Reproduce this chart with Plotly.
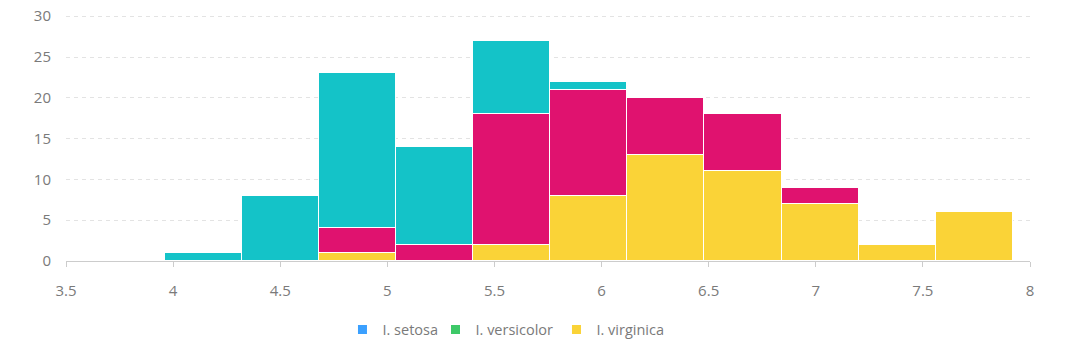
import plotly.graph_objects as go

bin_centers = [4.14, 4.50, 4.86, 5.22, 5.58, 5.94, 6.30, 6.66, 7.02, 7.38, 7.74]
bin_width = 0.36
setosa = [1, 8, 19, 12, 9, 1, 0, 0, 0, 0, 0]
versicolor = [0, 0, 3, 2, 16, 13, 7, 7, 2, 0, 0]
virginica = [0, 0, 1, 0, 2, 8, 13, 11, 7, 2, 6]
series_names = ["I. setosa", "I. versicolor", "I. virginica"]
bar_colors = {"I. setosa": "#14C3C8", "I. versicolor": "#E0126F", "I. virginica": "#FAD337"}
legend_colors = {"I. setosa": "#3BA0FF", "I. versicolor": "#3DC968", "I. virginica": "#FAD337"}
x_ticks = [3.5, 4, 4.5, 5, 5.5, 6, 6.5, 7, 7.5, 8]
y_ticks = [0, 5, 10, 15, 20, 25, 30]

FONT = "Open Sans, Noto Sans, sans-serif"
TXT = "#7a7a7a"

fig = go.Figure()
for name, vals in [("I. virginica", virginica), ("I. versicolor", versicolor), ("I. setosa", setosa)]:
    fig.add_trace(go.Bar(
        x=bin_centers, y=vals, width=[bin_width] * len(bin_centers),
        marker=dict(color=bar_colors[name], line=dict(color="white", width=1.5)),
        name=name, showlegend=False, hoverinfo="x+y+name",
    ))

legend_ids = ["legend", "legend2", "legend3"]
legend_x = [0.2868, 0.3833, 0.5088]
for name, lid in zip(series_names, legend_ids):
    fig.add_trace(go.Scatter(
        x=[None], y=[None], mode="markers", name=name, legend=lid,
        marker=dict(symbol="square", size=9, color=legend_colors[name]),
        showlegend=True,
    ))

legend_common = dict(orientation="h", xanchor="left", y=-0.214, yanchor="top",
                     font=dict(family=FONT, size=14.5, color=TXT), itemwidth=30,
                     bgcolor="rgba(0,0,0,0)")

fig.update_layout(
    width=1080, height=360,
    barmode="stack", bargap=0,
    paper_bgcolor="white", plot_bgcolor="white",
    margin=dict(l=66, r=50, t=15, b=99, autoexpand=False),
    font=dict(family=FONT, size=15, color=TXT),
    showlegend=True,
    legend=dict(x=legend_x[0], **legend_common),
    legend2=dict(x=legend_x[1], **legend_common),
    legend3=dict(x=legend_x[2], **legend_common),
)
fig.update_xaxes(
    range=[3.5, 8], tickvals=x_ticks, ticktext=[str(t) for t in x_ticks],
    showgrid=False, zeroline=False,
    showline=True, linecolor="#cccccc", linewidth=1,
    ticks="outside", ticklen=5, tickcolor="#cccccc",
    tickfont=dict(size=15, color=TXT), ticklabelstandoff=11,
)
fig.update_yaxes(
    range=[0, 30.15], tickvals=y_ticks,
    showgrid=True, gridcolor="#e3e3e3", griddash="4px,4px", gridwidth=1,
    zeroline=False, showline=False, ticks="",
    tickfont=dict(size=15, color=TXT), ticklabelstandoff=14,
    ticklabeloverflow="allow",
)

fig.write_html(
    "out.html",
    config={"displayModeBar": False},
    post_script="document.body.style.margin='0';document.body.style.padding='0';",
)
